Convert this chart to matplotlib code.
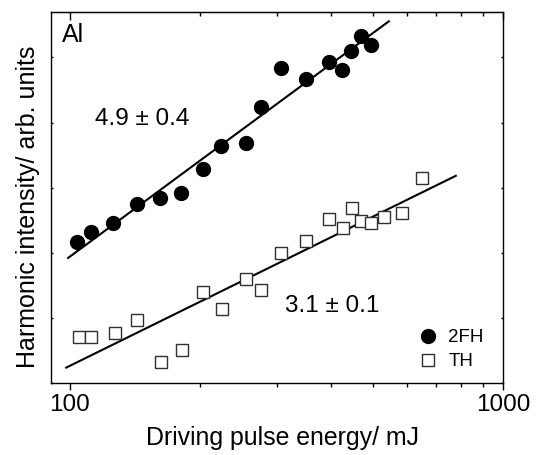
import numpy as np
import matplotlib
matplotlib.use("Agg")
import matplotlib.pyplot as plt
from matplotlib.ticker import LogLocator, NullFormatter, FixedLocator

plt.rcParams['font.family'] = ['Liberation Sans', 'DejaVu Sans']

# Data
energy_2fh = [104, 112, 126, 143, 161, 180, 203, 223, 255, 276, 307, 351, 396, 425, 446, 470, 496]
int_2fh = [10**v for v in [2.167, 2.321, 2.459, 2.750, 2.842, 2.919, 3.287, 3.640, 3.686, 4.238,
                           4.836, 4.667, 4.928, 4.805, 5.097, 5.327, 5.189]]
energy_th = [105, 112, 127, 143, 162, 181, 203, 224, 255, 276, 307, 351, 396, 426, 448, 470, 496, 530, 586, 649]
int_th = [10**v for v in [0.710, 0.710, 0.771, 0.971, 0.327, 0.511, 1.400, 1.140, 1.600, 1.431,
                          1.999, 2.183, 2.520, 2.382, 2.689, 2.489, 2.459, 2.551, 2.612, 3.149]]

# Fit lines: log10(I) = logA + slope*(log10(E) - 2)
fit_2fh_slope, fit_2fh_logA, fit_2fh_range = 4.9, 1.944, (99, 545)
fit_th_slope, fit_th_logA, fit_th_range = 3.27, 0.269, (98, 778)

x_ticks = [100, 1000]
x_ticklabels = ['100', '1000']

fig = plt.figure(figsize=(5.38, 4.55), dpi=100)
ax = fig.add_axes([51/538, 1-383.3/455, 452/538, 371.3/455])
ax.set_xscale('log')
ax.set_yscale('log')
ax.set_xlim(90.4, 1000)
ax.set_ylim(1, 10**5.695)

def fit_line(rng, slope, logA):
    x = np.geomspace(rng[0], rng[1], 50)
    return x, 10**(logA + slope*(np.log10(x) - 2))

xf, yf = fit_line(fit_2fh_range, fit_2fh_slope, fit_2fh_logA)
ax.plot(xf, yf, color='black', lw=1.5, zorder=2)
xf, yf = fit_line(fit_th_range, fit_th_slope, fit_th_logA)
ax.plot(xf, yf, color='black', lw=1.5, zorder=2)

ax.plot(energy_2fh, int_2fh, 'o', ms=10, color='black', label='2FH', zorder=3)
ax.plot(energy_th, int_th, 's', ms=8, mfc='white', mec='#303030', mew=1.0, label='TH', zorder=3)

ax.xaxis.set_major_locator(FixedLocator(x_ticks))
ax.set_xticklabels(x_ticklabels)
ax.xaxis.set_minor_locator(LogLocator(base=10, subs=np.arange(2, 10)))
ax.xaxis.set_minor_formatter(NullFormatter())
ax.yaxis.set_major_locator(LogLocator(base=10, numticks=10))
ax.yaxis.set_minor_locator(FixedLocator([]))
ax.yaxis.set_major_formatter(NullFormatter())

ax.tick_params(axis='x', which='major', direction='out', length=5, width=1, labelsize=17.5, pad=3)
ax.tick_params(axis='x', which='minor', direction='out', length=3, width=1)
ax.tick_params(axis='y', which='major', direction='in', length=1.5, width=1, left=True, right=True)

# top ticks inward: use secondary axis
sec = ax.secondary_xaxis('top')
sec.set_xscale('log')
sec.xaxis.set_major_locator(FixedLocator(x_ticks))
sec.xaxis.set_minor_locator(LogLocator(base=10, subs=np.arange(2, 10)))
sec.xaxis.set_major_formatter(NullFormatter())
sec.xaxis.set_minor_formatter(NullFormatter())
sec.tick_params(which='major', direction='in', length=6, width=1)
sec.tick_params(which='minor', direction='in', length=3, width=1)
ax.tick_params(axis='x', which='both', top=False)

for s in ax.spines.values():
    s.set_linewidth(1.0)

ax.set_xlabel('Driving pulse energy/ mJ', fontsize=17.9)
ax.xaxis.set_label_coords(0.512, -0.115)
ax.set_ylabel('Harmonic intensity/ arb. units', fontsize=18, labelpad=3)
ax.yaxis.set_label_coords(-0.025, 0.475)

ax.text(0.025, 0.97, 'Al', transform=ax.transAxes, fontsize=18, ha='left', va='top')
ax.text(0.097, 0.712, '4.9 \u00b1 0.4', transform=ax.transAxes, fontsize=17.5, ha='left', va='center')
ax.text(0.518, 0.207, '3.1 \u00b1 0.1', transform=ax.transAxes, fontsize=17.5, ha='left', va='center')

ax.legend(loc='upper left', bbox_to_anchor=(0.813, 0.146), frameon=False, fontsize=13.5,
          handlelength=1, handletextpad=0.6, labelspacing=0.36, borderpad=0, borderaxespad=0)

fig.savefig('out.png', dpi=100)
